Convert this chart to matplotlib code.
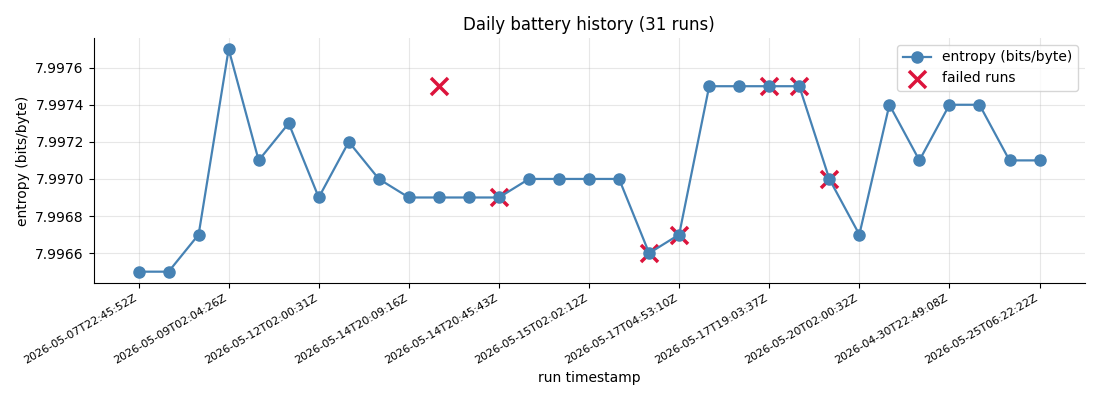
import matplotlib
matplotlib.use("Agg")
import matplotlib.pyplot as plt

runs = list(range(31))
entropy = [7.9965, 7.9965, 7.9967, 7.9977, 7.9971, 7.9973, 7.9969, 7.9972, 7.9970, 7.9969,
           7.9969, 7.9969, 7.9969, 7.9970, 7.9970, 7.9970, 7.9970, 7.9966, 7.9967, 7.9975,
           7.9975, 7.9975, 7.9975, 7.9970, 7.9967, 7.9974, 7.9971, 7.9974, 7.9974, 7.9971,
           7.9971]
failed_runs = [10, 12, 17, 18, 21, 22, 23]
failed_values = [7.9975, 7.9969, 7.9966, 7.9967, 7.9975, 7.9975, 7.9970]
tick_runs = [0, 3, 6, 9, 12, 15, 18, 21, 24, 27, 30]
tick_labels = ["2026-05-07T22:45:52Z", "2026-05-09T02:04:26Z", "2026-05-12T02:00:31Z",
               "2026-05-14T20:09:16Z", "2026-05-14T20:45:43Z", "2026-05-15T02:02:12Z",
               "2026-05-17T04:53:10Z", "2026-05-17T19:03:37Z", "2026-05-20T02:00:32Z",
               "2026-04-30T22:49:08Z", "2026-05-25T06:22:22Z"]

fig, ax = plt.subplots(figsize=(11, 4), dpi=100)
ax.scatter(failed_runs, failed_values, marker="x", s=150, color="crimson",
           linewidths=2.5, label="failed runs")
ax.plot(runs, entropy, marker="o", markersize=8, color="steelblue", linewidth=1.6,
        label="entropy (bits/byte)")
ax.set_xticks(tick_runs)
ax.set_xticklabels(tick_labels, rotation=30, ha="right", fontsize=8)
ax.ticklabel_format(axis="y", useOffset=False)
ax.set_title("Daily battery history (31 runs)", fontsize=12)
ax.set_xlabel("run timestamp")
ax.set_ylabel("entropy (bits/byte)")
ax.grid(True, alpha=0.3)
ax.spines["top"].set_visible(False)
ax.spines["right"].set_visible(False)
handles, labels = ax.get_legend_handles_labels()
ax.legend(handles[::-1], labels[::-1], loc="upper right")
fig.subplots_adjust(left=0.085, right=0.986, top=0.905, bottom=0.293)
fig.savefig("out.png")
